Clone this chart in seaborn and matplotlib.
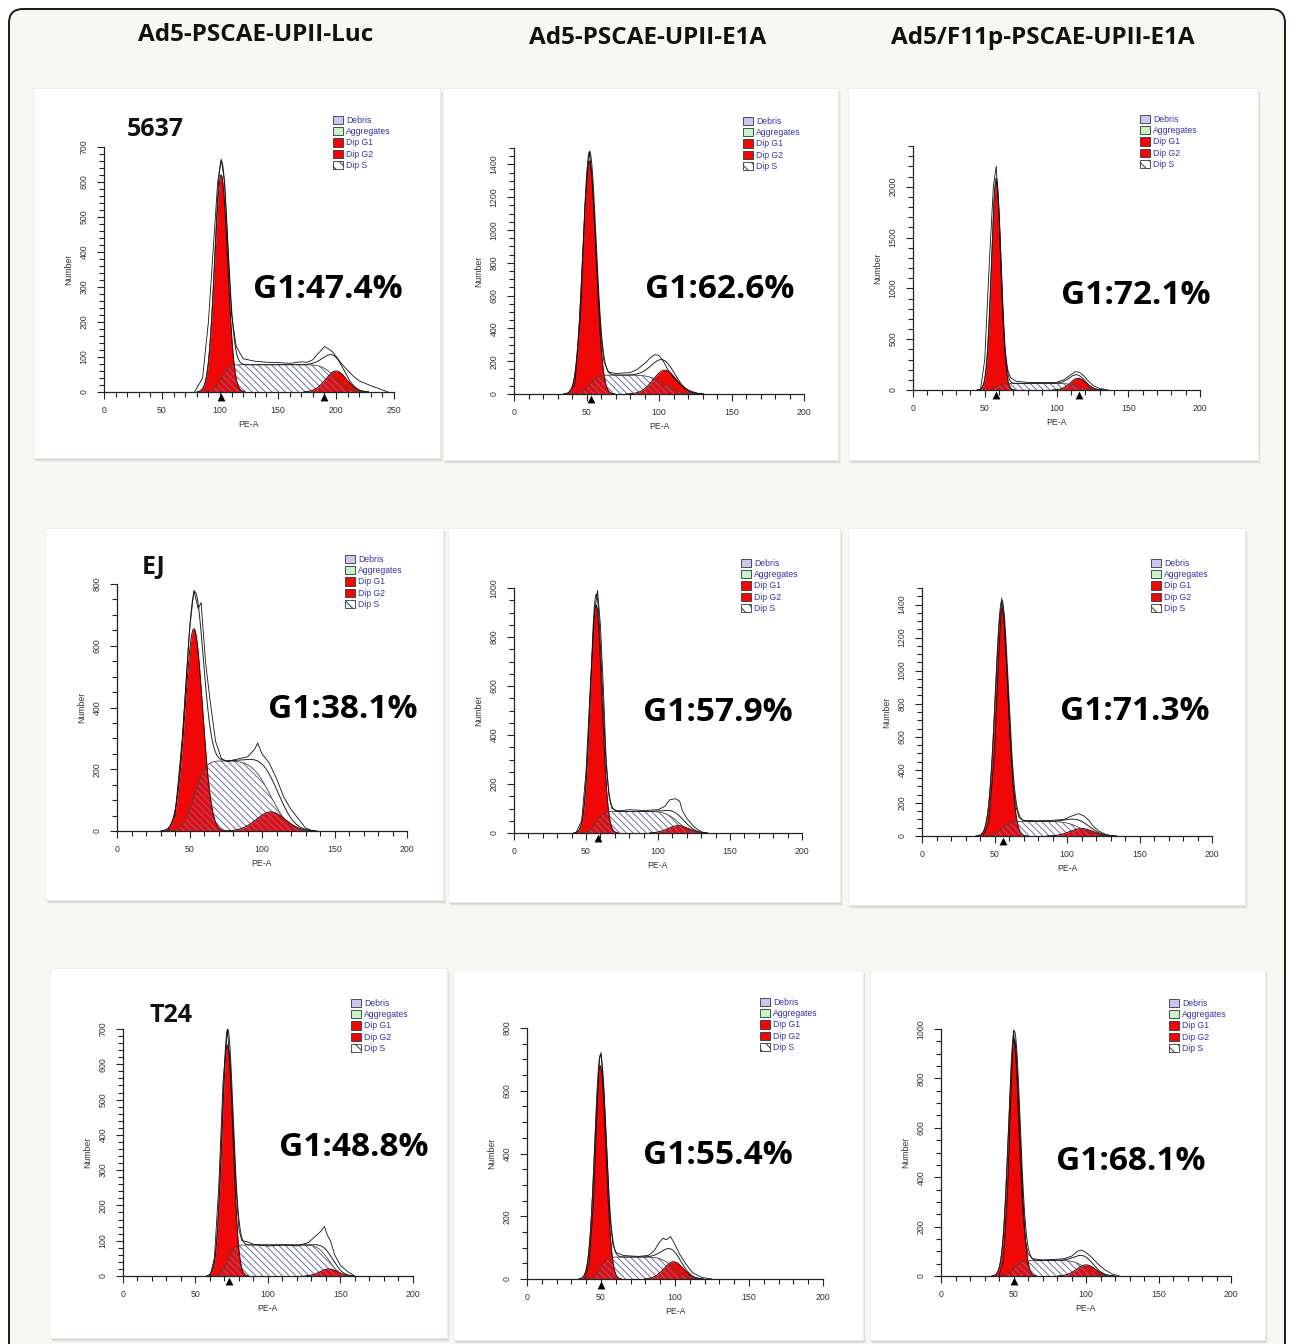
import math
import numpy as np
import pandas as pd
import matplotlib
matplotlib.use('Agg')
import matplotlib.pyplot as plt
from matplotlib.patches import Patch, Rectangle, FancyBboxPatch
from matplotlib.ticker import MultipleLocator
import seaborn as sns

# ---- data (row by row) ----
columns = ['Ad5-PSCAE-UPII-Luc', 'Ad5-PSCAE-UPII-E1A', 'Ad5/F11p-PSCAE-UPII-E1A']
cell_lines = ['5637', 'EJ', 'T24']
g1_labels = ['G1:47.4%', 'G1:62.6%', 'G1:72.1%',
             'G1:38.1%', 'G1:57.9%', 'G1:71.3%',
             'G1:48.8%', 'G1:55.4%', 'G1:68.1%']

x_max = [250, 200, 200, 200, 200, 200, 200, 200, 200]
y_max = [700, 1500, 2400, 800, 1000, 1500, 700, 800, 1000]
y_step = [100, 200, 500, 200, 200, 200, 100, 200, 200]
y_minor = [20, 50, 100, 50, 50, 50, 20, 50, 50]

# fitted components: G1 / G2 peaks and S-phase plateau
g1_pos = [101, 52, 58, 53, 57, 55, 72, 49.5, 50.5]
g1_height = [620, 1420, 2050, 655, 930, 1380, 655, 680, 960]
g1_sd = [5.5, 4.5, 3.3, 6.0, 4.0, 4.5, 3.8, 3.8, 4.0]
g2_pos = [200, 104, 115, 106, 114, 110, 142, 99, 100]
g2_height = [60, 145, 115, 62, 30, 45, 20, 55, 45]
g2_sd = [9, 8, 5.5, 10, 7, 8, 6, 6.5, 6.5]
s_level = [78, 115, 65, 227, 88, 88, 88, 70, 63]
peak_marks = [[101, 190], [53], [58, 116], [], [58], [56], [73], [50], [50]]

# raw histogram outline
raw_x = [
    [78, 85, 90, 95, 98, 101, 104, 107, 110, 114, 120, 130, 140, 150, 160, 170, 175, 180, 183, 187, 190, 194, 197, 201, 205, 210, 215, 220, 225, 230, 235, 240, 245],
    [37, 42, 46, 49, 52, 54, 57, 60, 62, 65, 70, 75, 80, 85, 90, 94, 97, 100, 103, 106, 110, 115, 120, 125, 130],
    [47, 50, 53, 56, 58, 60, 62, 64, 66, 68, 72, 80, 90, 100, 105, 110, 113, 116, 119, 122, 126, 130, 136],
    [35, 40, 45, 50, 53, 56, 58, 61, 64, 68, 72, 76, 80, 85, 90, 95, 97, 100, 105, 110, 115, 120, 125, 130, 135],
    [43, 47, 50, 53, 56, 58, 60, 62, 64, 66, 68, 72, 80, 90, 100, 105, 108, 112, 115, 117, 120, 125, 130, 133],
    [42, 46, 50, 53, 55, 57, 59, 61, 63, 65, 67, 70, 80, 90, 98, 103, 108, 112, 115, 118, 122, 127, 132],
    [60, 63, 66, 69, 72, 74, 76, 78, 80, 82, 85, 90, 100, 110, 120, 128, 132, 136, 139, 141, 143, 146, 150, 155, 160],
    [39, 42, 45, 47, 49, 50, 52, 54, 56, 58, 60, 65, 75, 82, 86, 89, 92, 94, 97, 100, 103, 107, 112, 118, 125],
    [40, 43, 46, 48, 50, 52, 54, 56, 58, 60, 63, 70, 78, 85, 90, 94, 97, 100, 104, 108, 113, 118, 123],
]
raw_y = [
    [0, 40, 200, 450, 600, 665, 600, 400, 220, 130, 95, 88, 85, 84, 82, 86, 85, 92, 105, 118, 130, 122, 115, 98, 80, 62, 45, 32, 25, 18, 12, 6, 0],
    [0, 60, 500, 1150, 1480, 1300, 800, 350, 200, 135, 125, 128, 130, 150, 185, 220, 240, 235, 200, 150, 100, 55, 25, 8, 0],
    [0, 300, 1200, 2000, 2200, 1700, 900, 400, 200, 120, 85, 75, 72, 75, 100, 150, 180, 175, 140, 90, 40, 15, 0],
    [0, 50, 300, 650, 780, 720, 740, 550, 430, 290, 235, 225, 230, 235, 240, 265, 285, 250, 220, 170, 110, 70, 40, 10, 0],
    [0, 50, 250, 600, 900, 990, 850, 600, 300, 150, 100, 90, 95, 92, 95, 110, 135, 140, 130, 90, 60, 25, 5, 0],
    [0, 80, 500, 1100, 1440, 1250, 900, 550, 300, 170, 110, 95, 92, 95, 100, 120, 135, 120, 95, 60, 30, 8, 0],
    [0, 50, 250, 550, 697, 600, 420, 250, 130, 100, 98, 90, 85, 88, 85, 95, 110, 125, 140, 115, 100, 60, 30, 12, 0],
    [0, 50, 250, 500, 700, 722, 600, 400, 200, 110, 85, 75, 72, 75, 90, 115, 130, 125, 135, 110, 80, 50, 20, 5, 0],
    [0, 60, 350, 700, 996, 850, 550, 300, 150, 90, 70, 65, 67, 70, 80, 100, 105, 95, 75, 50, 25, 8, 0],
]

# ---- layout in reference pixels ----
W, H = 1295, 1344
# axes box: left, right, bottom, top (pixel rows)
axes_px = [(104, 394, 392, 147), (514, 804, 394, 148), (913, 1200, 390, 146),
           (117, 407, 831, 584), (514, 802, 833, 588), (922, 1212, 836, 588),
           (123, 413, 1276, 1029), (527, 823, 1279, 1028), (941, 1231, 1276, 1029)]
cards_px = [(33, 88, 440, 458), (443, 88, 838, 460), (848, 88, 1258, 460),
            (45, 528, 443, 900), (448, 528, 840, 902), (848, 528, 1245, 905),
            (50, 968, 447, 1338), (453, 970, 863, 1340), (870, 970, 1265, 1340)]
legend_px = [(333, 116), (743, 117), (1140, 115), (345, 555), (741, 559), (1151, 559),
             (351, 999), (760, 998), (1169, 999)]
label_px = [(328, 290), (720, 290), (1136, 295), (343, 710), (718, 713), (1135, 712),
            (354, 1147), (718, 1155), (1131, 1162)]
cell_px = [(155, 130), (154, 567), (171, 1016)]
title_px = [(256, 35), (648, 38), (1043, 38)]

sns.set_theme(style='white')
plt.rcParams['font.family'] = ['Liberation Sans', 'DejaVu Sans']
plt.rcParams['hatch.linewidth'] = 0.7

RED = '#f00808'
erf = np.vectorize(math.erf)

fig = plt.figure(figsize=(W / 100, H / 100), dpi=100, facecolor='white')

# background layer in pixel coordinates
bg = fig.add_axes([0, 0, 1, 1])
bg.set_xlim(0, W)
bg.set_ylim(H, 0)
bg.axis('off')
bg.add_patch(FancyBboxPatch((9, 9), W - 19, H + 20,
                            boxstyle='round,pad=0,rounding_size=14',
                            fc='#f8f8f3', ec='#1a1a1a', lw=1.4))
for (x0, y0, x1, y1) in cards_px:
    for k, a in enumerate([0.05, 0.08, 0.11]):
        off = 4 - k
        bg.add_patch(Rectangle((x0 + off - 1, y0 + off), x1 - x0, y1 - y0,
                               fc='#555555', ec='none', alpha=a))
    bg.add_patch(Rectangle((x0, y0), x1 - x0, y1 - y0, fc='white', ec='#ececec', lw=0.6))

for (cx, cy), t in zip(title_px, columns):
    bg.text(cx, cy, t, ha='center', va='center', fontsize=17.5, fontweight='bold',
            family=['Open Sans', 'DejaVu Sans'], color='#111111')
for (cx, cy), t in zip(cell_px, cell_lines):
    bg.text(cx, cy, t, ha='center', va='center', fontsize=18, fontweight='bold',
            family=['Open Sans', 'DejaVu Sans'], color='#111111')

HATCH = '\\\\\\\\\\'
legend_handles = [Patch(fc='#c8c8f2', ec='#333333', lw=0.6, label='Debris'),
                  Patch(fc='#c8f2c8', ec='#333333', lw=0.6, label='Aggregates'),
                  Patch(fc=RED, ec='#333333', lw=0.6, label='Dip G1'),
                  Patch(fc=RED, ec='#333333', lw=0.6, label='Dip G2'),
                  Patch(fc='white', ec='#333333', lw=0.6, hatch='\\\\\\', label='Dip S')]

for i in range(9):
    l, r, b, t = axes_px[i]
    ax = fig.add_axes([l / W, 1 - b / H, (r - l) / W, (b - t) / H])
    ax.set_facecolor('none')
    ax.set_zorder(2)

    x = np.linspace(0, x_max[i], 1200)
    g1 = g1_height[i] * np.exp(-0.5 * ((x - g1_pos[i]) / g1_sd[i]) ** 2)
    g2 = g2_height[i] * np.exp(-0.5 * ((x - g2_pos[i]) / g2_sd[i]) ** 2)
    s = (s_level[i] * 0.5 * (1 + erf((x - g1_pos[i]) / (math.sqrt(2) * g1_sd[i])))
         * 0.5 * (1 - erf((x - g2_pos[i]) / (math.sqrt(2) * g2_sd[i]))))
    total = g1 + g2 + s
    mt = total > 0.5
    fit = pd.DataFrame({'PE-A': x[mt], 'Number': total[mt]})
    raw = pd.DataFrame({'PE-A': raw_x[i], 'Number': raw_y[i]})

    m1 = g1 > 0.5
    m2 = g2 > 0.5
    ms = s > 0.5
    ax.fill_between(x[m1], 0, g1[m1], color=RED, lw=0)
    ax.fill_between(x[m2], 0, g2[m2], color=RED, lw=0)
    ax.plot(x[m1], g1[m1], color='#3a0000', lw=0.7)
    ax.plot(x[m2], g2[m2], color='#3a0000', lw=0.7)
    ax.fill_between(x[ms], 0, s[ms], facecolor='none', edgecolor='#6f6fa0',
                    hatch=HATCH, lw=0)
    ax.plot(x[ms], s[ms], color='#444444', lw=0.6)
    sns.lineplot(data=fit, x='PE-A', y='Number', ax=ax, color='#222222', lw=0.7)
    sns.lineplot(data=raw, x='PE-A', y='Number', ax=ax, color='#111111', lw=0.6)

    for p in peak_marks[i]:
        ax.scatter([p], [-0.022 * y_max[i]], marker='^', s=32, color='black',
                   clip_on=False, zorder=5, linewidths=0)

    ax.set_xlim(0, x_max[i])
    ax.set_ylim(0, y_max[i])
    for side in ['top', 'right']:
        ax.spines[side].set_visible(False)
    for side in ['left', 'bottom']:
        ax.spines[side].set_color('#222222')
        ax.spines[side].set_linewidth(0.9)
    ax.xaxis.set_major_locator(MultipleLocator(50))
    ax.xaxis.set_minor_locator(MultipleLocator(10))
    ax.yaxis.set_major_locator(MultipleLocator(y_step[i]))
    ax.yaxis.set_minor_locator(MultipleLocator(y_minor[i]))
    ax.tick_params(which='both', direction='out', color='#222222', width=0.8,
                   bottom=True, left=True)
    ax.tick_params(which='major', length=5)
    ax.tick_params(which='minor', length=3.5)
    ax.tick_params(axis='x', labelsize=6.3, labelcolor='#333333', pad=5)
    ax.tick_params(axis='y', labelsize=6.3, labelcolor='#333333', pad=6, labelrotation=90)
    for lab in ax.get_yticklabels():
        lab.set_va('center')
    ax.set_xlabel('PE-A', fontsize=6.3, color='#333333', labelpad=4)
    ax.set_ylabel('Number', fontsize=6.3, color='#333333', labelpad=5)

    lx, ly = legend_px[i]
    ax.legend(handles=legend_handles, loc='upper left',
              bbox_to_anchor=(lx / W, 1 - ly / H), bbox_transform=fig.transFigure,
              frameon=False, fontsize=6.2, labelcolor='#3333aa', handlelength=1.2,
              handleheight=1.1, handletextpad=0.35, labelspacing=0.25,
              borderpad=0, borderaxespad=0)

    cx, cy = label_px[i]
    fig.text(cx / W, 1 - cy / H, g1_labels[i], ha='center', va='center',
             fontsize=24, fontweight='bold', family=['Open Sans', 'DejaVu Sans'],
             color='black', zorder=10)

fig.savefig('out.png', dpi=100, facecolor='white')
